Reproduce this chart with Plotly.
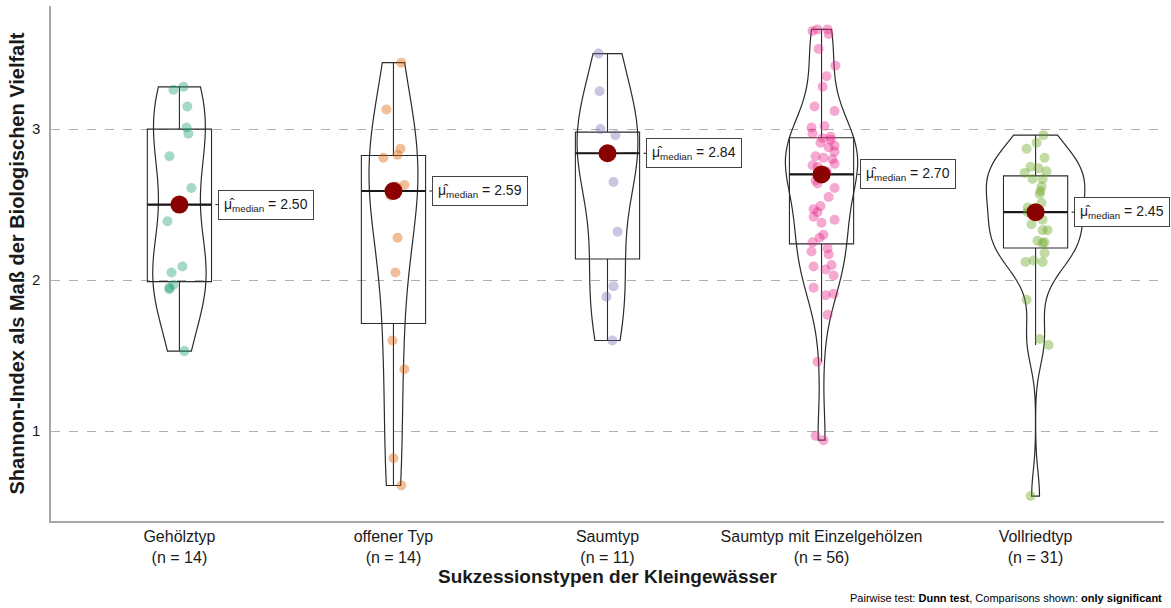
import numpy as np
import plotly.graph_objects as go

# ---- data -------------------------------------------------------------
categories = ["Gehölztyp", "offener Typ", "Saumtyp",
              "Saumtyp mit Einzelgehölzen", "Vollriedtyp"]
colors = ["#1B9E77", "#D95F02", "#7570B3", "#E7298A", "#66A61E"]

shannon_gehoelz = [3.26, 3.28, 3.15, 3.01, 2.82, 2.61, 2.39, 2.09, 1.95, 1.97,
                   1.94, 1.53, 2.05, 2.97]
shannon_offen = [3.44, 3.13, 2.87, 2.83, 2.81, 2.63, 2.28, 2.05, 1.60, 1.41,
                 0.82, 0.64, 2.56, 2.62]
shannon_saum = [3.50, 3.25, 3.00, 2.96, 2.65, 2.32, 1.96, 1.89, 1.60, 2.84, 2.86]
shannon_saum_gehoelz = [0.94, 0.97, 1.46, 1.77, 1.90, 1.91, 1.95, 2.03, 2.07, 2.09,
                        2.10, 2.17, 2.19, 2.21, 2.25, 2.28, 2.30, 2.38, 2.40, 2.42,
                        2.45, 2.47, 2.49, 2.55, 2.61, 2.64, 2.66, 2.69, 2.71, 2.72,
                        2.75, 2.76, 2.77, 2.80, 2.81, 2.82, 2.85, 2.88, 2.89, 2.91,
                        2.93, 2.94, 2.95, 2.97, 3.01, 3.02, 3.12, 3.15, 3.28, 3.35,
                        3.42, 3.53, 3.63, 3.65, 3.66, 3.66]
shannon_vollried = [0.57, 1.57, 1.61, 1.87, 2.12, 2.12, 2.13, 2.18, 2.245, 2.25,
                    2.26, 2.33, 2.33, 2.37, 2.40, 2.45, 2.48, 2.51, 2.57, 2.59,
                    2.62, 2.67, 2.67, 2.71, 2.72, 2.74, 2.75, 2.81, 2.87, 2.91, 2.96]

# horizontal jitter of the raw points (category units)
jitter_gehoelz = [-0.028, 0.019, 0.037, 0.033, -0.047, 0.056, -0.056, 0.014, -0.047,
                  -0.028, -0.047, 0.023, -0.037, 0.042]
jitter_offen = [0.037, -0.033, 0.033, 0.019, -0.047, 0.051, 0.019, 0.009, -0.005,
                0.051, 0.0, 0.037, -0.014, 0.014]
jitter_saum = [-0.042, -0.037, -0.033, 0.037, 0.028, 0.047, 0.028, -0.005, 0.023,
               -0.009, 0.014]
jitter_saum_gehoelz = [0.009, -0.028, -0.019, 0.028, 0.019, 0.056, -0.037, 0.056, 0.019, -0.037,
                       0.047, 0.033, -0.047, 0.028, -0.042, -0.009, 0.009, 0.0, 0.061, -0.037,
                       -0.019, -0.037, -0.005, 0.033, 0.061, -0.019, -0.028, 0.005, 0.023, 0.023,
                       -0.019, -0.042, 0.061, 0.051, 0.009, -0.028, 0.061, 0.033, 0.061, -0.005,
                       0.042, 0.005, 0.042, -0.042, -0.047, 0.014, 0.061, -0.033, 0.005, 0.023,
                       0.065, -0.014, 0.033, -0.042, -0.019, 0.028]
jitter_vollried = [-0.023, 0.061, 0.019, -0.042, -0.047, 0.033, -0.009, 0.042, 0.033, 0.042,
                   0.009, 0.056, 0.033, -0.019, 0.033, -0.037, -0.037, 0.028, 0.019, 0.023,
                   0.028, -0.014, 0.033, -0.051, 0.051, 0.014, -0.023, 0.042, -0.042, 0.005,
                   0.037]

groups = [shannon_gehoelz, shannon_offen, shannon_saum, shannon_saum_gehoelz, shannon_vollried]
jitters = [jitter_gehoelz, jitter_offen, jitter_saum, jitter_saum_gehoelz, jitter_vollried]

FONT = "Liberation Sans, Arial, sans-serif"
LABEL_OFFSET = 0.18
VIOLIN_WIDTH = 0.46


def nrd0(v):
    """Silverman's rule of thumb as used by R's bw.nrd0."""
    q1, q3 = np.percentile(v, [25, 75])
    lo = min(np.std(v, ddof=1), (q3 - q1) / 1.34)
    return 0.9 * lo * len(v) ** (-0.2)


def peak_density(v, bw):
    """Maximum of the Gaussian KDE inside the data range."""
    grid = np.linspace(v.min(), v.max(), 512)
    z = (grid[:, None] - v[None, :]) / bw
    dens = np.exp(-0.5 * z ** 2).sum(axis=1) / (len(v) * bw * np.sqrt(2 * np.pi))
    return dens.max()


arrays = [np.asarray(g, dtype=float) for g in groups]
bws = [nrd0(v) for v in arrays]
peaks = [peak_density(v, bw) for v, bw in zip(arrays, bws)]
top_peak = max(peaks)

fig = go.Figure()

for i, (v, jit) in enumerate(zip(arrays, jitters)):
    pos = i + 1
    q1, med, q3 = np.percentile(v, [25, 50, 75])
    iqr = q3 - q1
    lo_w = v[v >= q1 - 1.5 * iqr].min()
    hi_w = v[v <= q3 + 1.5 * iqr].max()

    # violin: equal-area scaling -> width proportional to peak density
    fig.add_trace(go.Violin(
        x0=pos, y=v, width=VIOLIN_WIDTH * peaks[i] / top_peak,
        spanmode="hard", bandwidth=bws[i], scalemode="width", points=False,
        line=dict(color="#2b2b2b", width=1.2), fillcolor="rgba(255,255,255,0)",
        showlegend=False, hoverinfo="skip"))

    # box plot from quartiles
    fig.add_trace(go.Box(
        x=[pos], q1=[q1], median=[med], q3=[q3], lowerfence=[lo_w], upperfence=[hi_w],
        width=0.3, whiskerwidth=0, boxpoints=False,
        line=dict(color="#2b2b2b", width=1.1), fillcolor="rgba(255,255,255,0)",
        showlegend=False, hoverinfo="skip"))

    # thicker median bar
    fig.add_trace(go.Scatter(
        x=[pos - 0.15, pos + 0.15], y=[med, med], mode="lines",
        line=dict(color="#1a1a1a", width=2.2), showlegend=False, hoverinfo="skip"))

    # raw observations
    fig.add_trace(go.Scatter(
        x=pos + np.asarray(jit), y=v, mode="markers",
        marker=dict(color=colors[i], size=10, opacity=0.4, line=dict(width=0)),
        showlegend=False, hoverinfo="skip"))

    # connector to the label
    fig.add_trace(go.Scatter(
        x=[pos, pos + LABEL_OFFSET], y=[med, med], mode="lines",
        line=dict(color="#1a1a1a", width=1, dash="dash"),
        showlegend=False, hoverinfo="skip"))

    # median marker
    fig.add_trace(go.Scatter(
        x=[pos], y=[med], mode="markers",
        marker=dict(color="#8B0000", size=18, line=dict(width=0)),
        showlegend=False, hoverinfo="skip"))

    fig.add_annotation(
        x=pos + LABEL_OFFSET, y=med, xref="x", yref="y", xanchor="left", yanchor="middle",
        text=f"μ̂<sub>median</sub> = {med:.2f}", showarrow=False,
        font=dict(family=FONT, size=14, color="#1a1a1a"),
        bgcolor="white", bordercolor="#444444", borderwidth=1, borderpad=5)

fig.add_annotation(
    x=1, y=0, xref="paper", yref="paper", xanchor="right", yanchor="top", yshift=-69,
    text="Pairwise test: <b>Dunn test</b>, Comparisons shown: <b>only significant</b>",
    showarrow=False, font=dict(family=FONT, size=11, color="black"))

ticktext = [f"{c}<br>(n = {len(g)})" for c, g in zip(categories, groups)]

fig.update_layout(
    width=1171, height=608,
    margin=dict(l=51, r=7, t=6, b=87),
    paper_bgcolor="white", plot_bgcolor="white",
    violinmode="overlay", boxmode="overlay",
    font=dict(family=FONT, color="#1a1a1a"),
    xaxis=dict(
        range=[0.4, 5.6], tickmode="array", tickvals=[1, 2, 3, 4, 5], ticktext=ticktext,
        tickfont=dict(size=16, color="#1a1a1a"), showgrid=False, zeroline=False,
        showline=True, linecolor="#a6a6a6", linewidth=1.5, ticks="",
        title=dict(text="<b>Sukzessionstypen der Kleingewässer</b>",
                   font=dict(size=19, color="#1a1a1a"), standoff=2)),
    yaxis=dict(
        range=[0.405, 3.815], tickmode="array", tickvals=[1, 2, 3],
        tickfont=dict(size=15, color="#1a1a1a"),
        showgrid=True, gridcolor="#b0b0b0", griddash="dash", gridwidth=1,
        zeroline=False, showline=True, linecolor="#a6a6a6", linewidth=1.5, ticks="",
        ticklabelstandoff=6,
        title=dict(text="<b>Shannon-Index als Maß der Biologischen Vielfalt</b>",
                   font=dict(size=20, color="#1a1a1a"), standoff=2)),
)

fig.write_html("out.html")
